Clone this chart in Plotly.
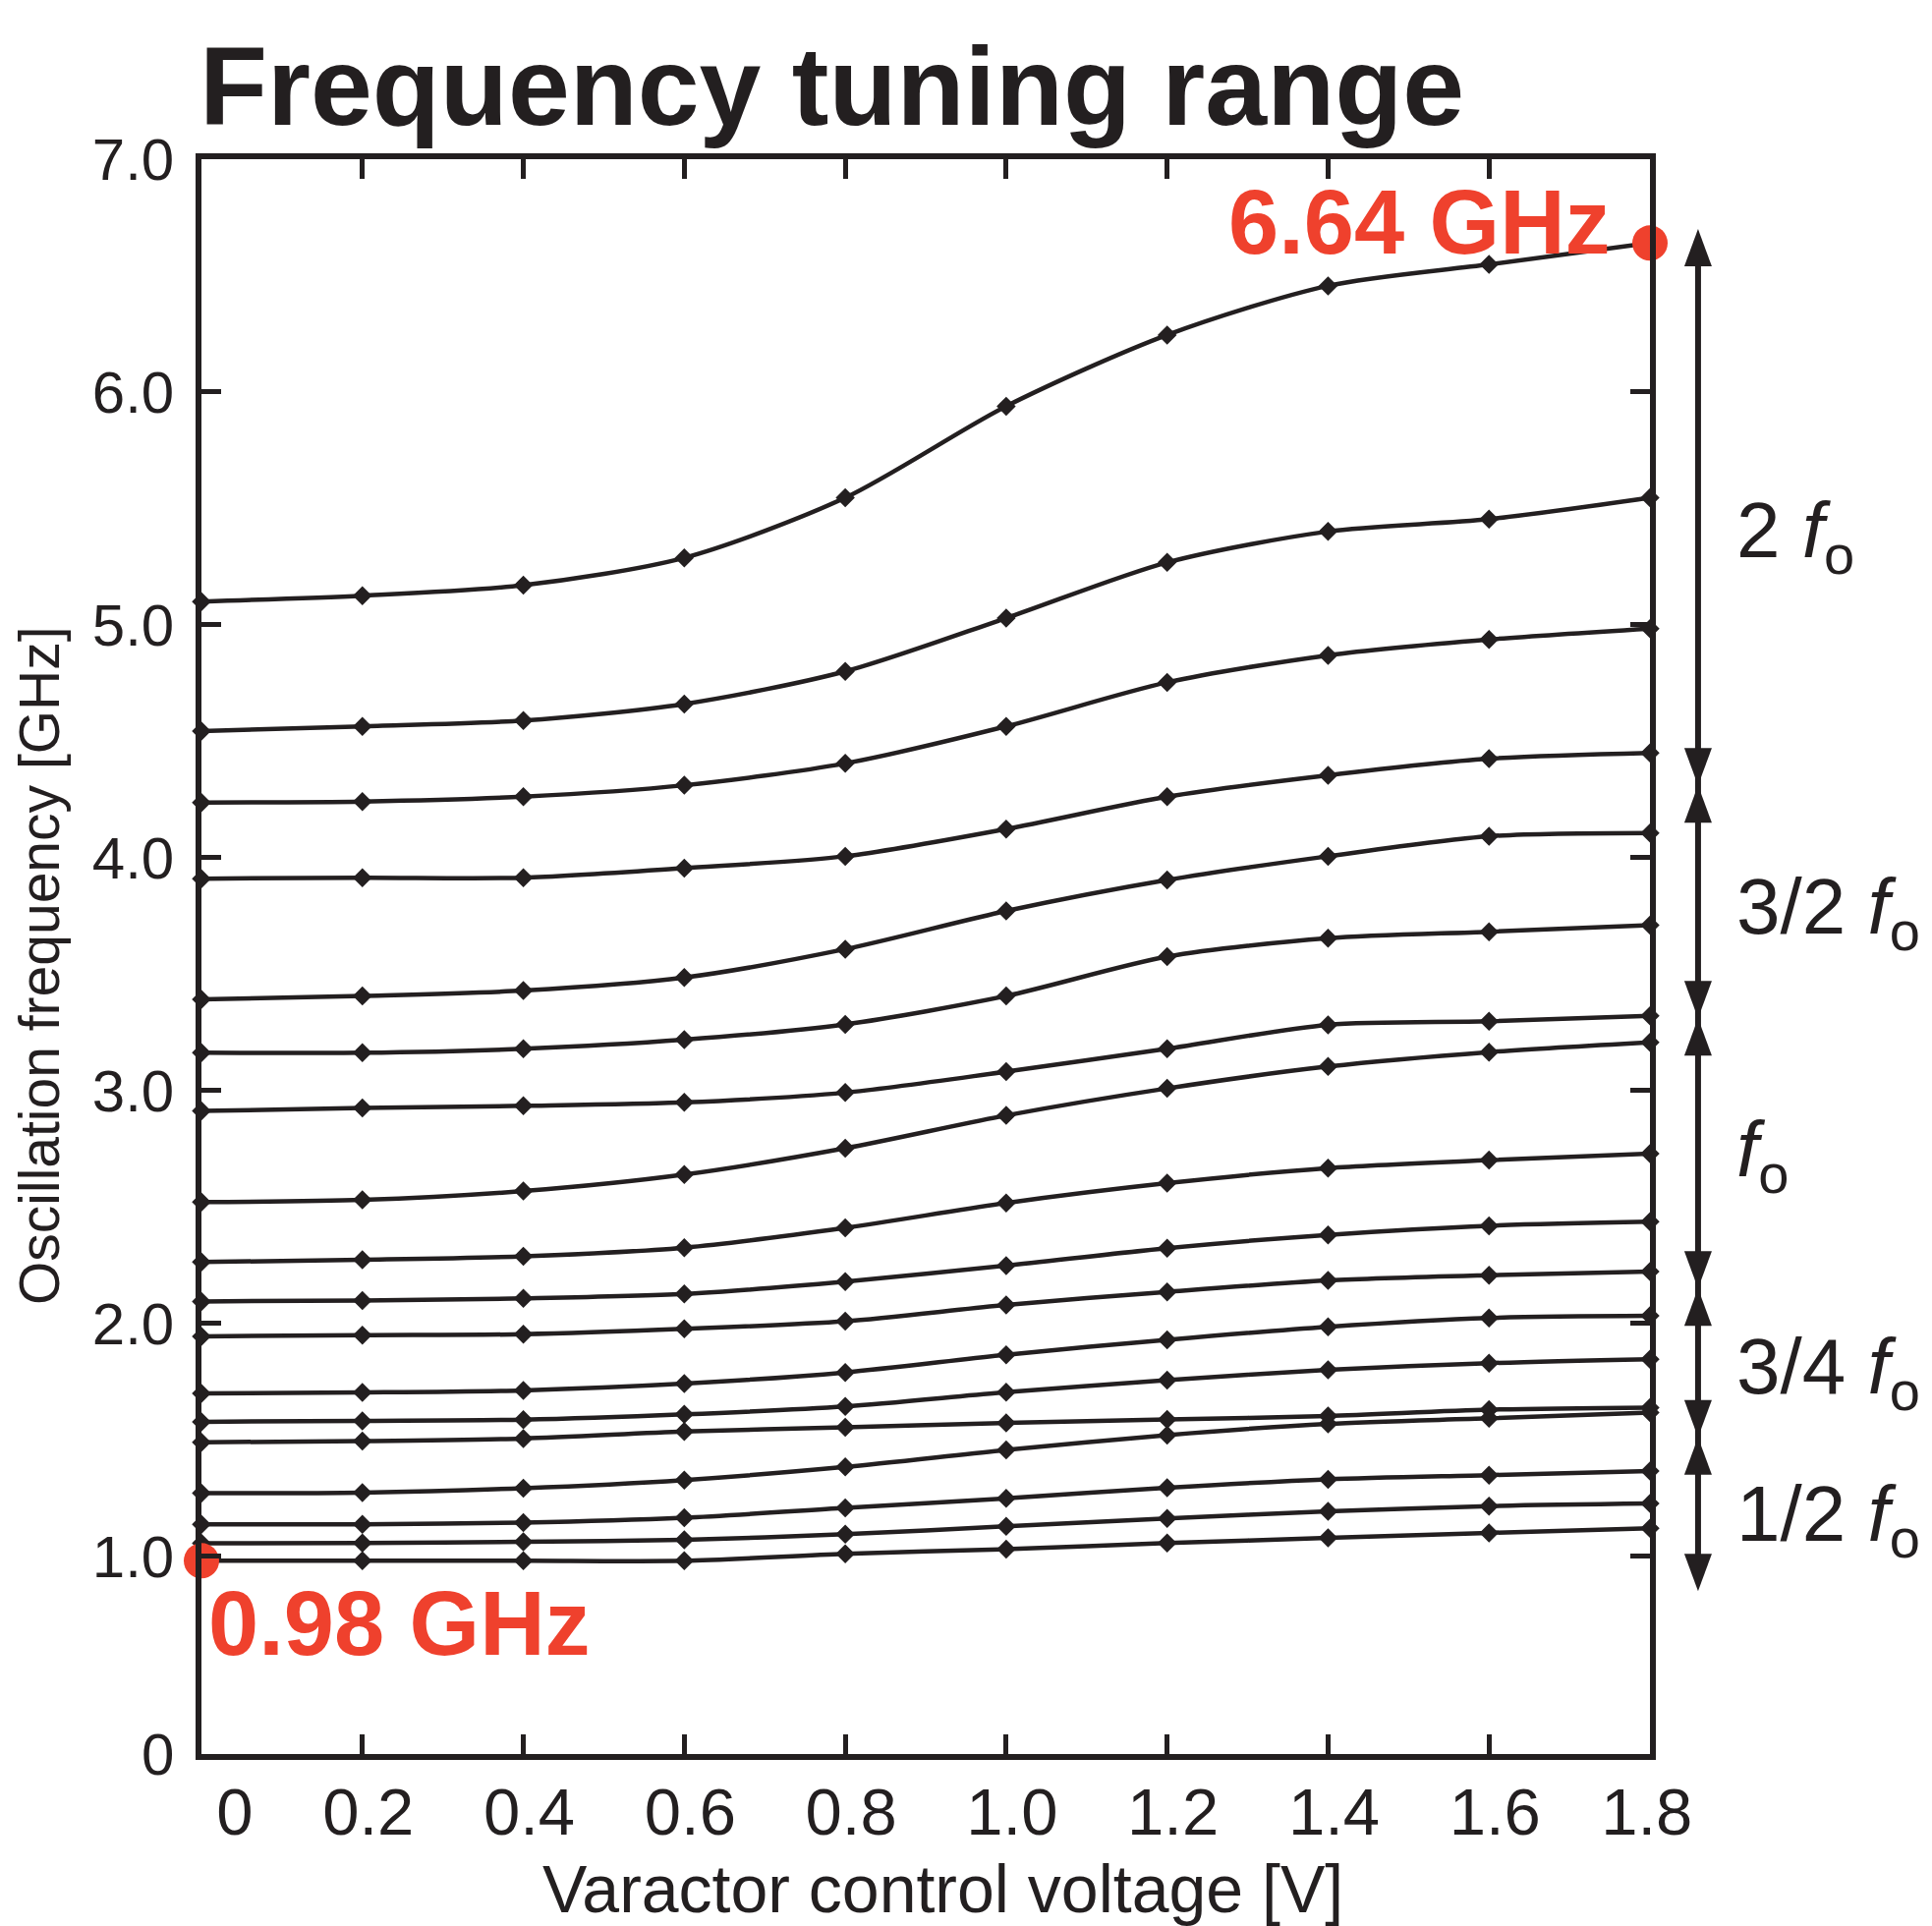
import plotly.graph_objects as go

# ---------------- data ----------------
voltage = [0.0, 0.2, 0.4, 0.6, 0.8, 1.0, 1.2, 1.4, 1.6, 1.8]

f01 = [5.100, 5.125, 5.170, 5.288, 5.546, 5.939, 6.245, 6.456, 6.548, 6.640]
f02 = [4.544, 4.564, 4.589, 4.660, 4.800, 5.029, 5.268, 5.401, 5.454, 5.546]
f03 = [4.237, 4.241, 4.262, 4.311, 4.405, 4.564, 4.753, 4.869, 4.937, 4.984]
f04 = [3.910, 3.914, 3.914, 3.955, 4.006, 4.123, 4.262, 4.354, 4.425, 4.450]
f05 = [3.391, 3.406, 3.429, 3.485, 3.607, 3.771, 3.904, 4.006, 4.092, 4.106]
f06 = [3.162, 3.162, 3.179, 3.218, 3.284, 3.406, 3.575, 3.654, 3.682, 3.710]
f07 = [2.912, 2.925, 2.934, 2.949, 2.991, 3.081, 3.179, 3.282, 3.297, 3.321]
f08 = [2.521, 2.530, 2.568, 2.639, 2.752, 2.893, 3.009, 3.103, 3.165, 3.207]
f09 = [2.263, 2.273, 2.288, 2.325, 2.410, 2.517, 2.602, 2.667, 2.701, 2.729]
f10 = [2.094, 2.098, 2.107, 2.126, 2.179, 2.248, 2.323, 2.380, 2.419, 2.436]
f11 = [1.944, 1.949, 1.953, 1.976, 2.009, 2.079, 2.135, 2.184, 2.207, 2.222]
f12 = [1.699, 1.703, 1.712, 1.741, 1.789, 1.865, 1.929, 1.985, 2.023, 2.032]
f13 = [1.577, 1.581, 1.586, 1.609, 1.643, 1.704, 1.756, 1.800, 1.829, 1.846]
f14 = [1.489, 1.494, 1.505, 1.535, 1.553, 1.572, 1.587, 1.602, 1.629, 1.638]
f15 = [1.271, 1.273, 1.292, 1.327, 1.383, 1.456, 1.520, 1.568, 1.592, 1.617]
f16 = [1.137, 1.137, 1.144, 1.165, 1.207, 1.248, 1.294, 1.330, 1.348, 1.366]
f17 = [1.055, 1.056, 1.062, 1.070, 1.094, 1.128, 1.162, 1.192, 1.215, 1.226]
f18 = [0.980, 0.980, 0.980, 0.980, 1.010, 1.030, 1.056, 1.078, 1.100, 1.120]

curves = [f01, f02, f03, f04, f05, f06, f07, f08, f09, f10,
          f11, f12, f13, f14, f15, f16, f17, f18]

extreme_v = [0.0, 1.8]
extreme_f = [0.98, 6.64]
extreme_text = ["0.98 GHz", "6.64 GHz"]

NBSP = "\u00a0"
x_tick_vals = [0.0, 0.2, 0.4, 0.6, 0.8, 1.0, 1.2, 1.4, 1.6, 1.8]
x_tick_text = [NBSP * 3 + "0", "0.2", "0.4", "0.6", "0.8", "1.0", "1.2",
               "1.4", "1.6", "1.8" + NBSP]
Y_MIN, Y_MAX = 0.15, 7.0
y_tick_vals = [Y_MIN, 1, 2, 3, 4, 5, 6, 7]
y_tick_text = ["0", "1.0", "2.0", "3.0", "4.0", "5.0", "6.0", "7.0"]

# harmonic bands (arrow tips / junctions, GHz) and their labels
band_edges = [6.70, 4.31, 3.31, 2.15, 1.51, 0.85]
band_labels = ["2 <i>f</i><sub>o</sub>", "3/2 <i>f</i><sub>o</sub>",
               "<i>f</i><sub>o</sub>", "3/4 <i>f</i><sub>o</sub>",
               "1/2 <i>f</i><sub>o</sub>"]

# ---------------- style ----------------
INK = "#231f20"
RED = "#ef412d"
FONT = "Liberation Sans, Arial, Helvetica, sans-serif"
W, H = 1966, 1960
# page body has an 8px margin, so the figure origin sits at (8, 8)
ML, MR, MT, MB = 197, 295, 154, 183

fig = go.Figure()

for f in curves:
    fig.add_trace(go.Scatter(
        x=voltage, y=f, mode="lines+markers",
        line=dict(color=INK, width=4.5, shape="spline", smoothing=0.8),
        marker=dict(symbol="diamond", size=15, color=INK),
        cliponaxis=False, showlegend=False, hoverinfo="x+y"))

fig.add_trace(go.Scatter(
    x=extreme_v, y=extreme_f, mode="markers",
    marker=dict(symbol="circle", size=36, color=RED),
    cliponaxis=False, showlegend=False))

annotations = []
# red value labels
annotations.append(dict(x=extreme_v[0], y=0.933, xref="x", yref="y",
                        text=extreme_text[0], showarrow=False,
                        xanchor="left", yanchor="top", xshift=5,
                        font=dict(family=FONT, size=92, color=RED, weight="bold")))
annotations.append(dict(x=extreme_v[1], y=6.952, xref="x", yref="y",
                        text=extreme_text[1], showarrow=False,
                        xanchor="right", yanchor="top", xshift=-38,
                        font=dict(family=FONT, size=92, color=RED, weight="bold")))

# band labels
label_tops = [5.605, 3.985, 2.945, 2.012, 1.380]
for lab, yt in zip(band_labels, label_tops):
    annotations.append(dict(x=1.0583, y=yt, xref="paper", yref="y",
                            text=lab, showarrow=False,
                            xanchor="left", yanchor="top",
                            font=dict(family=FONT, size=80, color=INK)))

# title and axis titles
annotations.append(dict(x=0, y=1.0054, xref="paper", yref="paper",
                        text="Frequency tuning range", showarrow=False,
                        xanchor="left", yanchor="bottom", xshift=-4,
                        font=dict(family=FONT, size=113, color=INK, weight="bold")))
annotations.append(dict(x=-0.0966, y=0.4945, xref="paper", yref="paper",
                        text="Oscillation frequency [GHz]", showarrow=False,
                        textangle=-90, xanchor="right", yanchor="middle", xshift=12,
                        font=dict(family=FONT, size=57, color=INK)))
annotations.append(dict(x=0.512, y=-0.0595, xref="paper", yref="paper",
                        text="Varactor control voltage [V]", showarrow=False,
                        xanchor="center", yanchor="top",
                        font=dict(family=FONT, size=68, color=INK)))

# double-headed arrows marking harmonic bands
shapes = []
AX = 1.0332
HEAD_W, HEAD_L = 14, 38
shapes.append(dict(type="line", xref="paper", yref="y",
                   x0=AX, x1=AX, y0=band_edges[0] - 0.08, y1=band_edges[-1] + 0.08,
                   line=dict(color=INK, width=6)))
for i in range(len(band_edges) - 1):
    top, bot = band_edges[i], band_edges[i + 1]
    shapes.append(dict(type="path", xref="paper", yref="y",
                       xsizemode="pixel", ysizemode="pixel",
                       xanchor=AX, yanchor=top,
                       path=f"M0,0 L{-HEAD_W},{-HEAD_L} L{HEAD_W},{-HEAD_L} Z",
                       fillcolor=INK, line=dict(width=0)))
    shapes.append(dict(type="path", xref="paper", yref="y",
                       xsizemode="pixel", ysizemode="pixel",
                       xanchor=AX, yanchor=bot,
                       path=f"M0,0 L{-HEAD_W},{HEAD_L} L{HEAD_W},{HEAD_L} Z",
                       fillcolor=INK, line=dict(width=0)))

axis_common = dict(showline=True, linecolor=INK, linewidth=5.5, mirror="ticks",
                   ticks="inside", ticklen=20, tickwidth=5, tickcolor=INK,
                   showgrid=False, zeroline=False)

fig.update_layout(
    width=W, height=H, autosize=False,
    margin=dict(l=ML, r=MR, t=MT, b=MB, pad=0),
    paper_bgcolor="white", plot_bgcolor="white",
    xaxis=dict(range=[0, 1.8], tickvals=x_tick_vals, ticktext=x_tick_text,
               tickfont=dict(family=FONT, size=67, color=INK),
               ticklabelstandoff=-4, ticklabelshift=6, **axis_common),
    yaxis=dict(range=[Y_MIN, Y_MAX], tickvals=y_tick_vals, ticktext=y_tick_text,
               tickfont=dict(family=FONT, size=60, color=INK),
               ticklabelstandoff=10, **axis_common),
    annotations=annotations, shapes=shapes,
    showlegend=False,
)

fig.write_html("out.html")
